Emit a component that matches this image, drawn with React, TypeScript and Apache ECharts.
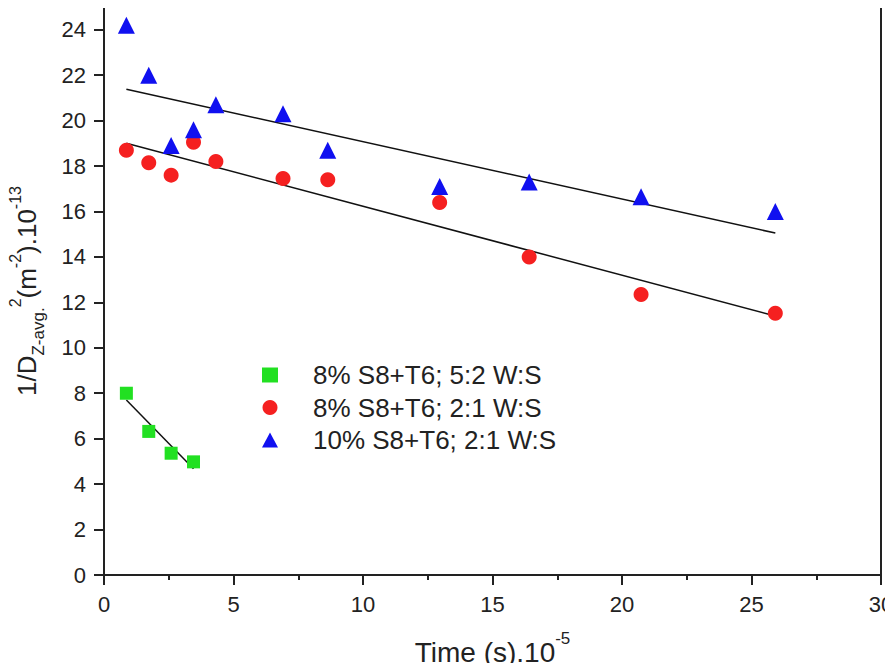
import React, { useEffect, useRef } from "react";
import * as echarts from "echarts";

const timeBlue = [0.864, 1.728, 2.592, 3.456, 4.32, 6.912, 8.64, 12.96, 16.416, 20.736, 25.92];
const valBlue = [24.2, 22.0, 18.9, 19.6, 20.7, 20.3, 18.7, 17.1, 17.3, 16.65, 16.0];
const timeRed = [0.864, 1.728, 2.592, 3.456, 4.32, 6.912, 8.64, 12.96, 16.416, 20.736, 25.92];
const valRed = [18.7, 18.15, 17.6, 19.05, 18.2, 17.45, 17.4, 16.4, 14.0, 12.35, 11.52];
const timeGreen = [0.864, 1.728, 2.592, 3.456];
const valGreen = [8.0, 6.32, 5.36, 4.98];

const fitBlueX = [0.864, 25.92];
const fitBlueY = [21.38, 15.05];
const fitRedX = [0.864, 25.92];
const fitRedY = [19.0, 11.4];
const fitGreenX = [0.864, 3.456];
const fitGreenY = [7.7, 4.68];

const seriesNames = ["8% S8+T6; 5:2 W:S", "8% S8+T6; 2:1 W:S", "10% S8+T6; 2:1 W:S"];

const xMin = 0;
const xMax = 30;
const yMin = 0;
const yMax = 25;

const zip = (xs: number[], ys: number[]) => xs.map((x, i) => [x, ys[i]]);

export default function App() {
  const ref = useRef<HTMLDivElement>(null);
  useEffect(() => {
    if (!ref.current) return;
    const chart = echarts.init(ref.current, null, { renderer: "svg" });
    const font = "Liberation Sans, Arial, sans-serif";
    const axisColor = "#222";
    const txt = "#222";
    const fitLine = (xs: number[], ys: number[]) => ({
      type: "line",
      data: zip(xs, ys),
      symbol: "none",
      lineStyle: { color: "#111", width: 1.5 },
      silent: true,
      z: 1,
    });
    chart.setOption({
      animation: false,
      backgroundColor: "#fff",
      textStyle: { fontFamily: font },
      grid: {
        left: 104,
        right: 12,
        top: 7,
        bottom: 96,
        outerBoundsMode: "none",
        containLabel: false,
        show: true,
        borderColor: axisColor,
        borderWidth: 2,
      },
      legend: {
        orient: "vertical",
        left: 257,
        top: 357,
        itemWidth: 16,
        itemHeight: 15,
        itemGap: 6.5,
        data: seriesNames,
        textStyle: {
          fontSize: 26,
          color: txt,
          fontFamily: font,
          lineHeight: 26,
          padding: [0, 0, 0, 30],
        },
      },
      xAxis: {
        type: "value",
        min: xMin,
        max: xMax,
        interval: 5,
        name: "{n|Time (s).10}{sup|-5}",
        nameLocation: "middle",
        nameGap: 55,
        nameTextStyle: {
          rich: {
            n: { fontSize: 28, color: txt, fontFamily: font, lineHeight: 36, verticalAlign: "bottom" },
            sup: { fontSize: 17, color: txt, fontFamily: font, lineHeight: 36, verticalAlign: "top" },
          },
        },
        axisLine: { show: true, onZero: false, lineStyle: { color: axisColor, width: 2 } },
        axisTick: { show: true, inside: false, length: 10, lineStyle: { color: axisColor, width: 2 } },
        minorTick: { show: true, splitNumber: 2, length: 5, lineStyle: { color: axisColor, width: 2 } },
        axisLabel: { fontSize: 22, color: txt, margin: 18, fontFamily: font },
        splitLine: { show: false },
      },
      yAxis: {
        type: "value",
        min: yMin,
        max: yMax,
        interval: 2,
        name: "{n|1/D}{sub|Z-avg.}{sup|2}{n|(m}{sup|-2}{n|).10}{sup|-13}",
        nameLocation: "middle",
        nameRotate: 90,
        nameGap: 57,
        nameTextStyle: {
          rich: {
            n: { fontSize: 26, color: txt, fontFamily: font, lineHeight: 40, verticalAlign: "middle" },
            sub: { fontSize: 17, color: txt, fontFamily: font, lineHeight: 40, verticalAlign: "bottom" },
            sup: { fontSize: 16, color: txt, fontFamily: font, lineHeight: 40, verticalAlign: "top" },
          },
        },
        axisLine: { show: true, onZero: false, lineStyle: { color: axisColor, width: 2 } },
        axisTick: { show: true, inside: false, length: 10, lineStyle: { color: axisColor, width: 2 } },
        axisLabel: {
          fontSize: 22,
          color: txt,
          margin: 18,
          fontFamily: font,
          formatter: (v: number) => (v > 24 ? "" : String(v)),
        },
        splitLine: { show: false },
      },
      series: [
        {
          name: seriesNames[0],
          type: "scatter",
          symbol: "rect",
          symbolSize: 13,
          itemStyle: { color: "#22e022", opacity: 1 },
          data: zip(timeGreen, valGreen),
          z: 3,
        },
        {
          name: seriesNames[1],
          type: "scatter",
          symbol: "circle",
          symbolSize: 15,
          itemStyle: { color: "#f52020", opacity: 1 },
          data: zip(timeRed, valRed),
          z: 3,
        },
        {
          name: seriesNames[2],
          type: "scatter",
          symbol: "triangle",
          symbolSize: 17,
          itemStyle: { color: "#1010f0", opacity: 1 },
          data: zip(timeBlue, valBlue),
          z: 3,
        },
        fitLine(fitBlueX, fitBlueY),
        fitLine(fitRedX, fitRedY),
        fitLine(fitGreenX, fitGreenY),
      ],
    });
    const tl = chart.convertToPixel({ gridIndex: 0 }, [xMin, yMax]) as number[];
    const tr = chart.convertToPixel({ gridIndex: 0 }, [xMax, yMax]) as number[];
    const br = chart.convertToPixel({ gridIndex: 0 }, [xMax, yMin]) as number[];
    chart.setOption({
      graphic: [
        {
          type: "line",
          silent: true,
          z: 10,
          shape: { x1: tl[0], y1: tl[1], x2: tr[0], y2: tr[1] },
          style: { stroke: axisColor, lineWidth: 2 },
        },
        {
          type: "line",
          silent: true,
          z: 10,
          shape: { x1: tr[0], y1: tr[1], x2: br[0], y2: br[1] },
          style: { stroke: axisColor, lineWidth: 2 },
        },
      ],
    });
    return () => chart.dispose();
  }, []);
  return <div ref={ref} style={{ width: 893, height: 671, margin: -8 }} />;
}
